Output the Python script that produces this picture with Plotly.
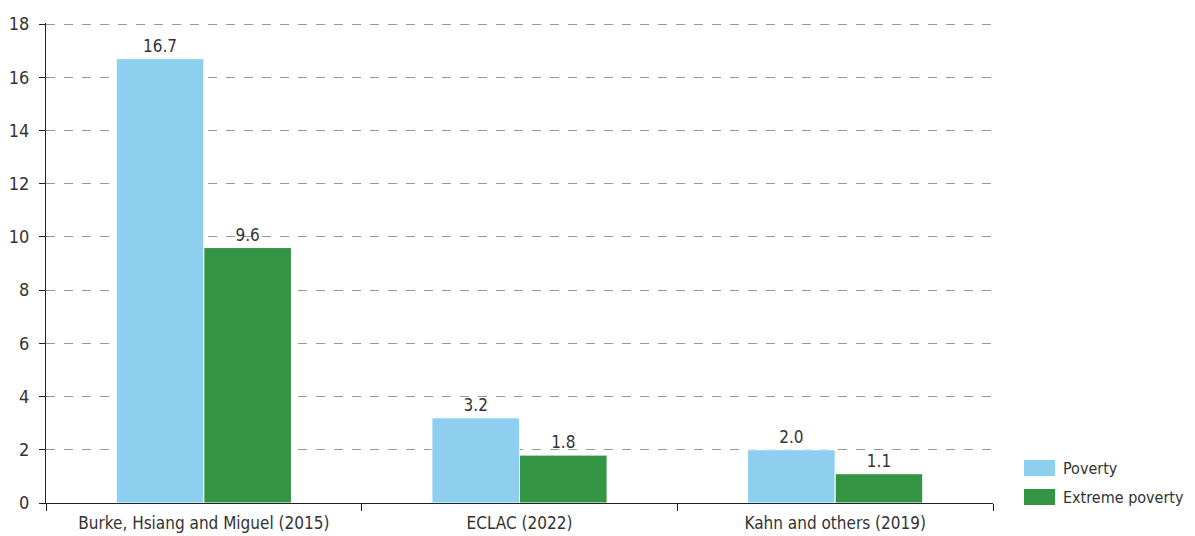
import plotly.graph_objects as go

categories = ["Burke, Hsiang and Miguel (2015)", "ECLAC (2022)", "Kahn and others (2019)"]
poverty = [16.7, 3.2, 2.0]
extreme_poverty = [9.6, 1.8, 1.1]
y_ticks = [0, 2, 4, 6, 8, 10, 12, 14, 16, 18]
series_names = ["Poverty", "Extreme poverty"]
series_colors = ["#8ECFF0", "#339444"]

FONT = "DejaVu Sans Condensed, Roboto, sans-serif"
TXT = "#333333"

fig = go.Figure()
for name, vals, col in zip(series_names, [poverty, extreme_poverty], series_colors):
    fig.add_trace(go.Bar(
        x=categories, y=vals, name=name, showlegend=False,
        marker=dict(color=col, line=dict(color="white", width=1)),
        text=[f"{v:.1f}" for v in vals], textposition="outside",
        textfont=dict(size=17, color=TXT, family=FONT), cliponaxis=False,
    ))

# custom legend (wide swatches like the reference)
L, T = 46, 23
W, H = 947, 480
def px(x): return (x - L) / W
def py(y): return (T + H - y) / H
for i, (name, col) in enumerate(zip(series_names, series_colors)):
    cy = 468 + 29 * i
    fig.add_shape(type="rect", xref="paper", yref="paper",
                  x0=px(1024), x1=px(1055), y0=py(cy + 8), y1=py(cy - 8),
                  fillcolor=col, line=dict(width=0))
    fig.add_annotation(xref="paper", yref="paper", x=px(1061), y=py(cy),
                       text=name, showarrow=False, xanchor="left", yanchor="middle",
                       font=dict(size=16, color=TXT, family=FONT))

fig.update_layout(
    width=1195, height=536,
    margin=dict(l=L, r=1195 - L - W, t=T, b=536 - T - H),
    paper_bgcolor="white", plot_bgcolor="white",
    barmode="group", bargap=0.445, bargroupgap=0.0,
    font=dict(family=FONT, color=TXT, size=17),
    showlegend=False,
)
fig.update_xaxes(
    type="category", range=[-0.5, 2.5], automargin=False,
    showline=True, linecolor="#222222", linewidth=1,
    ticks="outside", tickson="boundaries", ticklen=7, tickcolor="#222222",
    ticklabelstandoff=5,
    tickfont=dict(size=17, color=TXT, family=FONT),
    showgrid=False,
)
fig.update_yaxes(
    range=[0, 18.04], tickvals=y_ticks, automargin=False,
    showline=True, linecolor="#222222", linewidth=1,
    ticks="outside", ticklen=6, tickcolor="#222222", ticklabelstandoff=6,
    tickfont=dict(size=18, color=TXT, family=FONT),
    showgrid=True, gridcolor="#999999", griddash="dash", gridwidth=1,
    zeroline=False,
)

fig.write_html("out.html", config={"displayModeBar": False},
               post_script="document.body.style.margin='0';")
